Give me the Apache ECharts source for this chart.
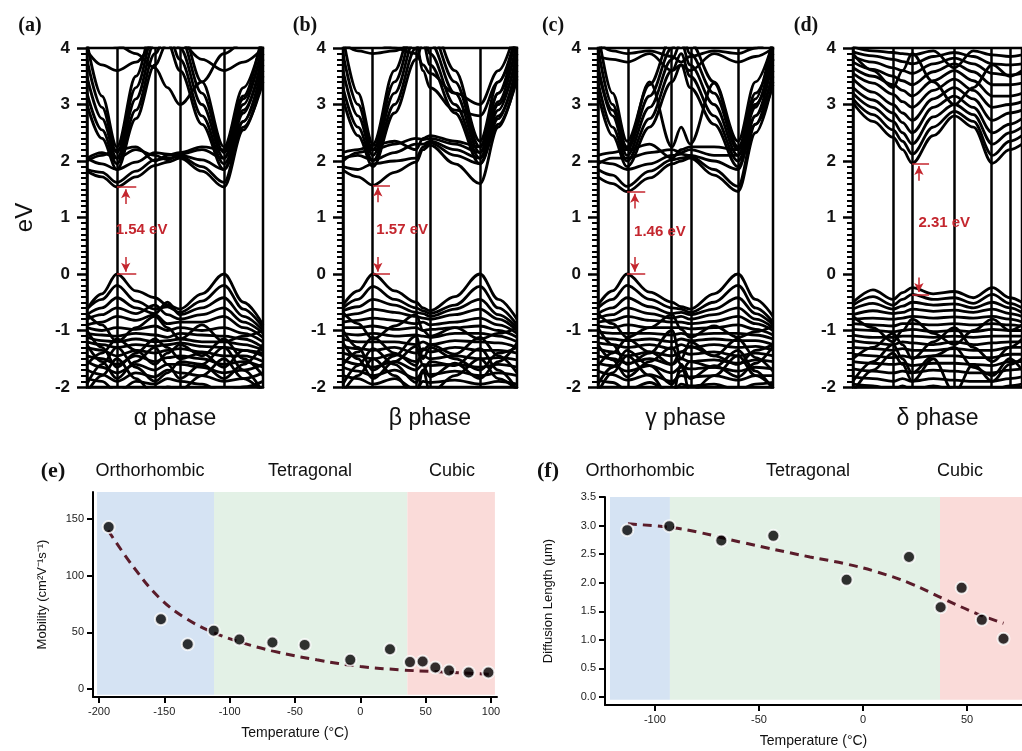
<!DOCTYPE html>
<html>
<head>
<meta charset="utf-8">
<script src="https://cdn.jsdelivr.net/npm/echarts@6/dist/echarts.min.js"></script>
<style>
html, body { margin: 0; padding: 0; background: #fff; }
#main { width: 1022px; height: 751px; }
</style>
</head>
<body>
<div id="main"></div>
<script>
var chartDom = document.getElementById('main');
var myChart = echarts.init(chartDom);

// ---- band structures (k path as fraction 0..1, energies in eV) ----
var phaseNames = ['α phase', 'β phase', 'γ phase', 'δ phase'];
var panelTags = ['(a)', '(b)', '(c)', '(d)'];

var kxA = [0, 0.085, 0.17, 0.278, 0.386, 0.457, 0.528, 0.653, 0.778, 0.889, 1];
var kLinesA = [0.17, 0.386, 0.528, 0.778];
var bandsA = [
  [1.82, 1.72, 1.54, 1.72, 1.92, 1.98, 2.05, 1.82, 1.54, 2.55, 3.5],
  [1.85, 1.8, 1.62, 1.82, 2.02, 2.05, 2.08, 1.9, 1.62, 2.7, 3.7],
  [2.05, 1.95, 1.85, 1.98, 2.15, 2.12, 2.1, 2.02, 1.85, 2.85, 3.9],
  [2.05, 2.15, 2.05, 2.2, 2.1, 2.02, 2.12, 2.2, 2.05, 3.0, 4.1],
  [2.0, 2.1, 2.2, 2.25, 2.0, 2.1, 2.15, 2.25, 2.2, 3.15, 4.3],
  [3.0, 2.4, 1.85, 2.75, 3.7, 4.1, 3.6, 2.65, 1.85, 2.6, 3.4],
  [3.2, 2.55, 1.95, 2.9, 3.9, 4.3, 3.8, 2.8, 1.95, 2.7, 3.6],
  [3.5, 2.75, 2.05, 3.1, 4.1, 4.5, 4.0, 3.0, 2.05, 2.9, 3.8],
  [3.8, 2.95, 2.15, 3.3, 4.3, 4.6, 4.2, 3.2, 2.15, 3.1, 4.0],
  [4.1, 3.15, 2.25, 3.5, 4.5, 4.7, 4.4, 3.4, 2.25, 3.3, 4.2],
  [3.95, 3.7, 3.6, 3.75, 4.1, 4.3, 4.1, 3.8, 3.6, 3.75, 4.0],
  [4.2, 4.1, 4.05, 3.9, 3.65, 3.3, 3.0, 3.4, 3.9, 4.1, 4.3],
  [-0.62, -0.35, 0.0, -0.3, -0.42, -0.55, -0.62, -0.35, 0.0, -0.5, -0.9],
  [-0.62, -0.45, -0.2, -0.48, -0.62, -0.58, -0.68, -0.48, -0.2, -0.62, -0.95],
  [-0.72, -0.6, -0.42, -0.6, -0.7, -0.5, -0.72, -0.6, -0.42, -0.75, -1.0],
  [-0.8, -0.72, -0.6, -0.7, -0.55, -0.72, -0.8, -0.72, -0.6, -0.85, -1.05],
  [-0.9, -0.85, -0.75, -0.82, -0.72, -0.88, -0.85, -0.85, -0.75, -0.95, -1.12],
  [-0.95, -1.0, -0.95, -0.98, -0.92, -1.0, -0.95, -1.0, -0.95, -1.05, -1.2],
  [-1.05, -1.08, -1.1, -1.05, -1.08, -1.12, -1.05, -1.08, -1.1, -1.15, -1.3],
  [-1.12, -1.18, -1.2, -1.15, -1.2, -1.18, -1.15, -1.2, -1.2, -1.25, -1.35],
  [-1.2, -1.25, -1.3, -1.25, -1.28, -1.25, -1.22, -1.28, -1.3, -1.35, -1.45],
  [-1.3, -1.35, -1.45, -1.35, -1.4, -1.35, -1.32, -1.38, -1.45, -1.45, -1.55],
  [-1.45, -1.5, -1.6, -1.45, -1.55, -1.48, -1.45, -1.5, -1.6, -1.55, -1.65],
  [-1.55, -1.65, -1.75, -1.6, -1.7, -1.6, -1.6, -1.65, -1.75, -1.7, -1.6],
  [-1.7, -1.78, -1.9, -1.75, -1.82, -1.7, -1.75, -1.8, -1.9, -1.85, -1.75],
  [-1.85, -1.9, -2.1, -1.9, -1.95, -1.85, -1.9, -1.95, -2.1, -2.0, -1.9],
  [-2.1, -1.8, -1.5, -1.85, -2.15, -2.0, -2.05, -1.8, -1.5, -1.85, -2.1],
  [-1.0, -1.3, -1.65, -1.4, -1.15, -1.3, -1.5, -1.4, -1.65, -1.35, -1.4],
  [-0.7, -0.9, -1.2, -0.95, -0.75, -0.95, -1.15, -0.9, -1.2, -1.1, -1.0],
  [-1.6, -1.4, -1.15, -1.35, -1.6, -1.4, -1.25, -1.45, -1.15, -1.5, -1.8],
  [-1.95, -1.6, -1.3, -1.65, -1.9, -1.75, -1.55, -1.6, -1.3, -1.7, -2.1],
  [-1.25, -1.55, -1.85, -1.55, -1.3, -1.6, -1.85, -1.6, -1.85, -1.6, -1.25]
];

var kxB = [0, 0.086, 0.172, 0.296, 0.42, 0.46, 0.5, 0.643, 0.787, 0.893, 1];
var kLinesB = [0.172, 0.42, 0.5, 0.787];
var bandsB = [
  [1.84, 1.72, 1.57, 1.8, 1.98, 2.2, 2.28, 1.95, 1.6, 2.6, 3.5],
  [1.9, 1.85, 1.95, 2.0, 2.05, 2.25, 2.32, 2.1, 1.95, 2.75, 3.7],
  [2.05, 2.1, 2.02, 2.15, 2.3, 2.3, 2.35, 2.2, 2.05, 2.9, 3.9],
  [2.0, 2.15, 2.2, 2.3, 2.4, 2.38, 2.4, 2.3, 2.15, 3.05, 4.1],
  [2.15, 2.2, 2.28, 2.35, 2.2, 2.4, 2.45, 2.35, 2.25, 3.2, 4.3],
  [3.1, 2.45, 1.9, 2.85, 3.8, 4.1, 3.7, 2.85, 1.95, 2.65, 3.45],
  [3.3, 2.6, 2.0, 3.0, 4.0, 4.3, 3.9, 3.0, 2.05, 2.8, 3.6],
  [3.6, 2.8, 2.1, 3.2, 4.2, 4.5, 4.1, 3.2, 2.15, 3.0, 3.8],
  [3.9, 3.0, 2.2, 3.4, 4.4, 4.6, 4.3, 3.4, 2.25, 3.2, 4.0],
  [4.2, 3.2, 2.3, 3.6, 4.6, 4.7, 4.5, 3.6, 2.35, 3.4, 4.2],
  [4.1, 3.95, 3.9, 3.95, 4.1, 3.6, 3.3, 2.9, 2.8, 3.4, 4.3],
  [4.3, 4.2, 4.1, 4.0, 3.9, 3.7, 3.55, 3.2, 3.0, 3.6, 4.4],
  [-0.55, -0.3, 0.0, -0.3, -0.5, -0.6, -0.65, -0.4, 0.0, -0.45, -0.8],
  [-0.6, -0.45, -0.22, -0.45, -0.6, -0.65, -0.7, -0.55, -0.22, -0.6, -0.9],
  [-0.65, -0.58, -0.45, -0.55, -0.68, -0.7, -0.75, -0.62, -0.45, -0.72, -0.95],
  [-0.75, -0.7, -0.62, -0.68, -0.75, -0.78, -0.8, -0.72, -0.62, -0.8, -1.0],
  [-0.85, -0.82, -0.78, -0.82, -0.88, -0.85, -0.9, -0.85, -0.78, -0.9, -1.05],
  [-0.95, -0.95, -0.92, -0.98, -0.95, -1.0, -0.98, -0.95, -0.92, -1.0, -1.12],
  [-1.05, -1.08, -1.05, -1.1, -1.08, -1.1, -1.12, -1.05, -1.05, -1.1, -1.2],
  [-1.15, -1.2, -1.2, -1.2, -1.25, -1.2, -1.25, -1.18, -1.2, -1.22, -1.3],
  [-1.28, -1.32, -1.35, -1.3, -1.4, -1.32, -1.38, -1.3, -1.35, -1.35, -1.4],
  [-1.4, -1.45, -1.5, -1.42, -1.55, -1.45, -1.5, -1.45, -1.5, -1.48, -1.52],
  [-1.52, -1.6, -1.65, -1.55, -1.7, -1.6, -1.62, -1.6, -1.65, -1.6, -1.65],
  [-1.65, -1.72, -1.8, -1.7, -1.85, -1.75, -1.78, -1.72, -1.8, -1.75, -1.8],
  [-1.8, -1.85, -1.95, -1.85, -2.05, -1.9, -1.92, -1.88, -1.95, -1.9, -1.95],
  [-2.1, -1.8, -1.5, -1.8, -2.2, -1.7, -2.1, -1.8, -1.5, -1.85, -2.05],
  [-1.0, -1.3, -1.7, -1.45, -1.1, -1.5, -1.3, -1.5, -1.7, -1.4, -1.3],
  [-0.68, -0.88, -1.15, -0.92, -0.72, -1.0, -1.1, -0.95, -1.15, -1.05, -0.95],
  [-1.6, -1.38, -1.12, -1.4, -1.62, -1.35, -1.25, -1.42, -1.12, -1.45, -1.75],
  [-1.95, -1.62, -1.32, -1.6, -1.92, -1.7, -1.55, -1.62, -1.32, -1.7, -2.05],
  [-1.22, -1.5, -1.85, -1.55, -1.28, -1.62, -1.82, -1.58, -1.85, -1.55, -1.22]
];

var kxC = [0, 0.083, 0.166, 0.295, 0.423, 0.475, 0.526, 0.663, 0.8, 0.9, 1];
var kLinesC = [0.166, 0.423, 0.526, 0.8];
var bandsC = [
  [1.72, 1.6, 1.46, 1.7, 1.95, 2.0, 2.05, 1.75, 1.46, 2.5, 3.4],
  [1.85, 1.75, 1.55, 1.82, 2.02, 2.05, 2.08, 1.85, 1.55, 2.65, 3.6],
  [2.0, 1.95, 1.85, 1.95, 2.1, 2.12, 2.1, 2.0, 1.85, 2.8, 3.8],
  [1.95, 2.05, 2.05, 2.15, 2.2, 2.15, 2.2, 2.1, 2.1, 2.95, 4.0],
  [2.1, 2.15, 2.2, 2.3, 2.05, 2.2, 2.25, 2.25, 2.2, 3.1, 4.2],
  [3.2, 2.45, 1.9, 2.6, 3.4, 3.7, 3.3, 2.65, 1.9, 2.65, 3.35],
  [3.4, 2.6, 2.0, 2.75, 3.6, 3.9, 3.5, 2.8, 2.0, 2.8, 3.5],
  [3.7, 2.8, 2.1, 2.95, 3.8, 4.1, 3.7, 3.0, 2.1, 3.0, 3.7],
  [4.0, 3.0, 2.2, 3.15, 4.0, 4.3, 3.9, 3.2, 2.2, 3.2, 3.9],
  [4.3, 3.2, 2.35, 3.35, 4.2, 4.5, 4.1, 3.4, 2.35, 3.4, 4.1],
  [3.6, 2.9, 2.25, 3.4, 2.25, 2.6, 2.3, 3.38, 2.25, 3.0, 3.8],
  [3.85, 3.8, 3.75, 3.9, 3.6, 3.7, 3.6, 3.9, 3.75, 3.85, 4.0],
  [4.1, 3.95, 3.9, 3.95, 3.85, 3.75, 3.85, 3.95, 3.9, 4.0, 4.2],
  [-0.55, -0.3, 0.0, -0.32, -0.5, -0.58, -0.62, -0.35, 0.0, -0.45, -0.75],
  [-0.6, -0.45, -0.2, -0.45, -0.6, -0.62, -0.68, -0.5, -0.2, -0.6, -0.85],
  [-0.7, -0.6, -0.42, -0.58, -0.7, -0.68, -0.72, -0.62, -0.42, -0.7, -0.9],
  [-0.78, -0.72, -0.6, -0.7, -0.78, -0.75, -0.8, -0.72, -0.6, -0.8, -0.95],
  [-0.85, -0.82, -0.75, -0.82, -0.85, -0.85, -0.88, -0.84, -0.75, -0.88, -1.0],
  [-0.92, -0.95, -0.9, -0.95, -0.95, -0.95, -0.97, -0.95, -0.9, -0.98, -1.08],
  [-1.02, -1.05, -1.05, -1.05, -1.08, -1.05, -1.08, -1.05, -1.05, -1.08, -1.15],
  [-1.12, -1.15, -1.18, -1.15, -1.2, -1.15, -1.18, -1.15, -1.18, -1.18, -1.25],
  [-1.22, -1.25, -1.3, -1.25, -1.32, -1.25, -1.3, -1.25, -1.3, -1.28, -1.35],
  [-1.32, -1.38, -1.45, -1.38, -1.45, -1.38, -1.42, -1.38, -1.45, -1.4, -1.45],
  [-1.45, -1.5, -1.58, -1.5, -1.6, -1.5, -1.55, -1.52, -1.58, -1.52, -1.55],
  [-1.58, -1.62, -1.72, -1.62, -1.75, -1.65, -1.68, -1.65, -1.72, -1.65, -1.68],
  [-1.72, -1.78, -1.88, -1.78, -1.9, -1.8, -1.82, -1.8, -1.88, -1.8, -1.8],
  [-1.88, -1.92, -2.05, -1.92, -2.1, -1.95, -1.98, -1.95, -2.05, -1.95, -1.92],
  [-2.1, -1.75, -1.45, -1.8, -2.2, -1.6, -2.1, -1.8, -1.45, -1.8, -2.0],
  [-0.95, -1.25, -1.6, -1.4, -1.0, -1.5, -1.2, -1.45, -1.6, -1.35, -1.25],
  [-0.7, -0.88, -1.12, -0.95, -0.72, -0.98, -1.12, -0.92, -1.12, -1.02, -0.92],
  [-1.62, -1.4, -1.15, -1.38, -1.6, -1.38, -1.28, -1.45, -1.15, -1.48, -1.72],
  [-1.95, -1.65, -1.35, -1.62, -1.95, -1.72, -1.55, -1.65, -1.35, -1.72, -2.05],
  [-1.25, -1.52, -1.82, -1.55, -1.3, -1.6, -1.85, -1.62, -1.82, -1.58, -1.28]
];

var kxD = [0, 0.118, 0.237, 0.293, 0.35, 0.475, 0.6, 0.712, 0.825, 0.927, 1];
var kLinesD = [0.237, 0.35, 0.6, 0.825, 0.927];
var bandsD = [
  [3.03, 2.7, 2.42, 2.2, 1.96, 2.45, 2.8, 2.6, 1.96, 2.2, 2.3],
  [3.1, 2.82, 2.55, 2.35, 2.12, 2.6, 2.88, 2.7, 2.1, 2.35, 2.45],
  [3.2, 2.95, 2.7, 2.5, 2.3, 2.78, 3.0, 2.82, 2.3, 2.5, 2.6],
  [3.3, 3.08, 2.85, 2.68, 2.5, 2.95, 3.15, 2.95, 2.5, 2.65, 2.75],
  [3.45, 3.22, 3.0, 2.85, 2.72, 3.1, 3.3, 3.1, 2.72, 2.85, 2.9],
  [3.55, 3.38, 3.18, 3.05, 2.95, 3.25, 3.45, 3.25, 2.95, 3.0, 3.05],
  [3.65, 3.5, 3.35, 3.25, 3.15, 3.42, 3.6, 3.42, 3.15, 3.15, 3.2],
  [3.75, 3.62, 3.5, 3.42, 3.35, 3.58, 3.72, 3.58, 3.35, 3.35, 3.38],
  [3.85, 3.75, 3.65, 3.6, 3.55, 3.72, 3.82, 3.72, 3.55, 3.52, 3.55],
  [3.93, 3.86, 3.8, 3.76, 3.72, 3.85, 3.92, 3.85, 3.72, 3.7, 3.72],
  [4.02, 3.95, 3.92, 3.9, 3.88, 3.95, 3.65, 3.95, 3.88, 3.85, 3.88],
  [3.9, 3.6, 3.3, 3.6, 3.9, 3.4, 3.0, 3.3, 3.7, 3.5, 3.6],
  [-0.5, -0.28, -0.45, -0.33, -0.24, -0.35, -0.31, -0.42, -0.24, -0.42, -0.5],
  [-0.55, -0.4, -0.55, -0.45, -0.36, -0.45, -0.42, -0.52, -0.36, -0.52, -0.6],
  [-0.62, -0.52, -0.62, -0.57, -0.5, -0.55, -0.53, -0.6, -0.5, -0.6, -0.68],
  [-0.72, -0.65, -0.7, -0.68, -0.62, -0.66, -0.64, -0.68, -0.62, -0.7, -0.75],
  [-0.8, -0.78, -0.8, -0.78, -0.75, -0.78, -0.76, -0.78, -0.75, -0.8, -0.85],
  [-0.88, -0.9, -0.92, -0.88, -0.88, -0.9, -0.88, -0.9, -0.88, -0.9, -0.92],
  [-0.98, -1.0, -1.02, -1.0, -0.98, -1.02, -1.0, -1.02, -0.98, -1.0, -1.0],
  [-1.08, -1.12, -1.12, -1.1, -1.1, -1.12, -1.1, -1.12, -1.1, -1.1, -1.1],
  [-1.18, -1.22, -1.25, -1.2, -1.22, -1.25, -1.2, -1.25, -1.22, -1.2, -1.2],
  [-1.3, -1.32, -1.35, -1.32, -1.35, -1.35, -1.32, -1.35, -1.35, -1.3, -1.3],
  [-1.42, -1.45, -1.48, -1.45, -1.48, -1.45, -1.45, -1.48, -1.48, -1.42, -1.42],
  [-1.55, -1.58, -1.6, -1.58, -1.62, -1.58, -1.58, -1.6, -1.62, -1.55, -1.55],
  [-1.68, -1.72, -1.75, -1.72, -1.75, -1.7, -1.72, -1.75, -1.75, -1.7, -1.68],
  [-1.82, -1.85, -1.9, -1.85, -1.9, -1.85, -1.88, -1.9, -1.9, -1.85, -1.82],
  [-1.95, -1.98, -2.05, -1.98, -2.05, -1.98, -2.05, -2.05, -2.05, -1.98, -1.95],
  [-2.1, -1.7, -1.4, -1.6, -1.9, -1.5, -2.1, -1.6, -1.9, -1.6, -1.5],
  [-0.75, -0.95, -1.2, -1.0, -0.8, -1.05, -1.25, -1.0, -0.8, -1.0, -0.9],
  [-1.5, -1.3, -1.05, -1.25, -1.5, -1.2, -0.95, -1.3, -1.55, -1.3, -1.15],
  [-1.9, -1.55, -1.25, -1.5, -1.75, -1.45, -1.3, -1.65, -1.8, -1.5, -1.7]
];

// band gap annotations
var gapText = ['1.54 eV', '1.57 eV', '1.46 eV', '2.31 eV'];
var cbmE = [1.54, 1.57, 1.46, 1.95];
var vbmE = [0, 0, 0, -0.36];
var gapStartK = [0.17, 0.172, 0.166, 0.35];
var gapEndK = [0.28, 0.27, 0.27, 0.45];
var arrowK = [0.22, 0.2, 0.21, 0.39];
var textK = [0.31, 0.34, 0.354, 0.54];
var textE = [0.78, 0.78, 0.75, 0.9];

// ---- mobility (e) ----
var mobTemp = [-192.6, -152.6, -132.1, -112.2, -92.6, -67.3, -42.6, -7.7, 22.7, 38, 47.7, 57.4, 67.9, 82.9, 98];
var mobVal = [143, 61.6, 39.6, 51.6, 43.7, 41.1, 39, 25.8, 35.2, 23.8, 24.3, 19.1, 16.4, 14.7, 14.7];
var mobFitT = [-193, -173.7, -153.3, -132.9, -112.5, -92.1, -66.6, -33.4, 0, 30.4, 55.9, 99];
var mobFitV = [140, 107.9, 80, 62, 50, 41.5, 33.5, 25.8, 20, 17, 15.5, 13];
var mobPhaseEdges = [-201.5, -112, 36, 103];

// ---- diffusion length (f) ----
var difTemp = [-113.3, -93.1, -68.1, -43.1, -7.9, 22.1, 37.3, 47.4, 57.1, 67.5];
var difVal = [2.92, 2.99, 2.74, 2.82, 2.05, 2.45, 1.57, 1.91, 1.35, 1.02];
var difFitT = [-113, -93, -80, -57.5, -25.5, -9.5, 6.6, 22.6, 38.6, 54.6, 67.5];
var difFitV = [3.03, 2.97, 2.89, 2.7, 2.45, 2.34, 2.19, 1.99, 1.72, 1.46, 1.29];
var difPhaseEdges = [-121.6, -92.8, 37, 80];

var phaseLabels = ['Orthorhombic', 'Tetragonal', 'Cubic'];
var phaseColors = ['#d5e3f3', '#e3f1e6', '#fadbd9'];

var RED = '#c4262e';
var SANS = 'Liberation Sans, Arial, sans-serif';
var SERIF = 'Liberation Serif, Times New Roman, serif';

var bandPanels = [
  { kx: kxA, kLines: kLinesA, bands: bandsA, left: 87, width: 176 },
  { kx: kxB, kLines: kLinesB, bands: bandsB, left: 343, width: 174 },
  { kx: kxC, kLines: kLinesC, bands: bandsC, left: 598, width: 175 },
  { kx: kxD, kLines: kLinesD, bands: bandsD, left: 853, width: 177 }
];

var option = {
  animation: false,
  backgroundColor: '#fff',
  grid: [],
  xAxis: [],
  yAxis: [],
  series: [],
  graphic: []
};

bandPanels.forEach(function (p, i) {
  option.grid.push({
    left: p.left, top: 48, width: p.width, height: 339,
    show: true, borderColor: '#000', borderWidth: 2.5, backgroundColor: 'transparent'
  });
  option.xAxis.push({
    type: 'value', gridIndex: i, min: 0, max: 1,
    axisLine: { show: true, onZero: false, lineStyle: { color: '#000', width: 2.5 } },
    axisTick: { show: false }, axisLabel: { show: false }, splitLine: { show: false },
    name: phaseNames[i], nameLocation: 'middle', nameGap: 20,
    nameTextStyle: { fontSize: 23, color: '#111', fontFamily: SANS }
  });
  option.yAxis.push({
    type: 'value', gridIndex: i, min: -2, max: 4, interval: 1,
    axisLine: { show: true, onZero: false, lineStyle: { color: '#000', width: 2.5 } },
    axisTick: { show: true, length: 10, lineStyle: { color: '#000', width: 2.5 } },
    minorTick: { show: true, splitNumber: 10, length: 6, lineStyle: { color: '#000', width: 2 } },
    axisLabel: { fontSize: 17, fontWeight: 'bold', color: '#111', margin: 17, fontFamily: SANS },
    splitLine: { show: false }, minorSplitLine: { show: false },
    name: i === 0 ? 'eV' : '', nameLocation: 'middle', nameGap: 50, nameRotate: 90,
    nameTextStyle: { fontSize: 24, color: '#111', fontFamily: SANS }
  });

  p.bands.forEach(function (b, j) {
    var s = {
      type: 'line', xAxisIndex: i, yAxisIndex: i,
      data: p.kx.map(function (x, n) { return [x, b[n]]; }),
      symbol: 'none', smooth: 0.35, smoothMonotone: 'x', silent: true, z: 2,
      lineStyle: { color: '#000', width: 2.8 }
    };
    if (j === 0) {
      s.markLine = {
        silent: true, symbol: 'none', label: { show: false },
        lineStyle: { color: '#000', width: 2.5, type: 'solid' },
        data: p.kLines.map(function (v) { return { xAxis: v }; })
      };
    }
    option.series.push(s);
  });

  // red gap annotation
  option.series.push({
    type: 'line', xAxisIndex: i, yAxisIndex: i,
    data: [[gapStartK[i], cbmE[i]]], symbol: 'none', silent: true, z: 5,
    lineStyle: { opacity: 0 },
    markLine: {
      silent: true, symbol: 'none', label: { show: false },
      lineStyle: { color: RED, width: 1.5, type: 'solid' },
      data: [
        [{ coord: [gapStartK[i], cbmE[i]] }, { coord: [gapEndK[i], cbmE[i]] }],
        [{ coord: [gapStartK[i], vbmE[i]] }, { coord: [gapEndK[i], vbmE[i]] }],
        [{ coord: [arrowK[i], cbmE[i] - 0.3], symbol: 'none' }, { coord: [arrowK[i], cbmE[i] - 0.04], symbol: 'arrow', symbolSize: [7, 9] }],
        [{ coord: [arrowK[i], vbmE[i] + 0.3], symbol: 'none' }, { coord: [arrowK[i], vbmE[i] + 0.04], symbol: 'arrow', symbolSize: [7, 9] }]
      ]
    },
    markPoint: {
      silent: true, symbol: 'circle', symbolSize: 1,
      itemStyle: { color: 'rgba(0,0,0,0)' },
      label: {
        show: true, position: 'inside', formatter: gapText[i],
        color: RED, fontWeight: 'bold', fontSize: 15, fontFamily: SANS
      },
      data: [{ coord: [textK[i], textE[i]] }]
    }
  });

  option.graphic.push({
    type: 'text', x: [30, 305, 553, 806][i], y: 26,
    style: {
      text: panelTags[i], fill: '#111', font: 'bold 20px ' + SERIF,
      align: 'center', verticalAlign: 'middle', textAlign: 'center', textVerticalAlign: 'middle'
    }
  });
});

// ---- bottom panels ----
function scatterPanel(idx, box, xr, yr, xTicks, yTicks, yFmt, yName, yNameGap, temps, vals, fitT, fitV, edges, bgY) {
  option.grid.push({ left: box[0], top: box[1], width: box[2], height: box[3] });
  option.xAxis.push({
    type: 'value', gridIndex: idx, min: xr[0], max: xr[1], z: 10,
    axisLine: { show: true, onZero: false, lineStyle: { color: '#000', width: 2 } },
    axisTick: { show: true, customValues: xTicks, length: 6, lineStyle: { color: '#000', width: 2 } },
    axisLabel: { customValues: xTicks, fontSize: 11, color: '#222', margin: 9, fontFamily: SANS },
    splitLine: { show: false },
    name: 'Temperature (°C)', nameLocation: 'middle', nameGap: 29,
    nameTextStyle: { fontSize: 14, color: '#111', fontFamily: SANS }
  });
  option.yAxis.push({
    type: 'value', gridIndex: idx, min: yr[0], max: yr[1], z: 10,
    axisLine: { show: true, onZero: false, lineStyle: { color: '#000', width: 2 } },
    axisTick: { show: true, customValues: yTicks, length: 6, lineStyle: { color: '#000', width: 2 } },
    axisLabel: { customValues: yTicks, fontSize: 11, color: '#222', margin: 9, fontFamily: SANS, formatter: yFmt },
    splitLine: { show: false },
    name: yName, nameLocation: 'middle', nameGap: yNameGap, nameRotate: 90,
    nameTextStyle: { fontSize: 13, color: '#111', fontFamily: SANS }
  });
  var fitData = fitT.map(function (t, n) { return [t, fitV[n]]; });
  option.series.push({
    type: 'line', xAxisIndex: idx, yAxisIndex: idx, data: fitData, symbol: 'none',
    lineStyle: { opacity: 0 }, silent: true, z: 1,
    markArea: {
      silent: true, label: { show: false },
      data: [0, 1, 2].map(function (k) {
        return [
          { xAxis: edges[k], yAxis: bgY[0], itemStyle: { color: phaseColors[k], opacity: 1 } },
          { xAxis: edges[k + 1], yAxis: bgY[1] }
        ];
      })
    }
  });
  option.series.push({
    type: 'line', xAxisIndex: idx, yAxisIndex: idx, data: fitData, symbol: 'none',
    smooth: 0.4, silent: true, z: 3,
    lineStyle: { color: '#5a1c2a', width: 3, type: [9, 6] }
  });
  option.series.push({
    type: 'scatter', xAxisIndex: idx, yAxisIndex: idx,
    data: temps.map(function (t, n) { return [t, vals[n]]; }),
    symbol: 'circle', symbolSize: 12, silent: true, z: 4,
    itemStyle: { color: '#000', borderColor: '#fff', borderWidth: 2 }
  });
}

scatterPanel(4, [93, 492, 404, 205], [-204.6, 104.6], [-7, 174],
  [-200, -150, -100, -50, 0, 50, 100], [0, 50, 100, 150],
  null, 'Mobility (cm²V⁻¹s⁻¹)', 44,
  mobTemp, mobVal, mobFitT, mobFitV, mobPhaseEdges, [-5, 174]);

scatterPanel(5, [605, 497, 417, 208], [-124, 76.4], [-0.14, 3.5],
  [-100, -50, 0, 50], [0, 0.5, 1, 1.5, 2, 2.5, 3, 3.5],
  function (v) { return v.toFixed(1); }, 'Diffusion Length (μm)', 50,
  difTemp, difVal, difFitT, difFitV, difPhaseEdges, [-0.05, 3.5]);

var bottomLabels = [
  { t: '(e)', x: 53, font: 'bold 22px ' + SERIF },
  { t: '(f)', x: 548, font: 'bold 22px ' + SERIF },
  { t: phaseLabels[0], x: 150, font: '18px ' + SANS },
  { t: phaseLabels[1], x: 310, font: '18px ' + SANS },
  { t: phaseLabels[2], x: 452, font: '18px ' + SANS },
  { t: phaseLabels[0], x: 640, font: '18px ' + SANS },
  { t: phaseLabels[1], x: 808, font: '18px ' + SANS },
  { t: phaseLabels[2], x: 960, font: '18px ' + SANS }
];
bottomLabels.forEach(function (b) {
  option.graphic.push({
    type: 'text', x: b.x, y: 471,
    style: {
      text: b.t, fill: '#111', font: b.font,
      align: 'center', verticalAlign: 'middle', textAlign: 'center', textVerticalAlign: 'middle'
    }
  });
});

option && myChart.setOption(option);
</script>
</body>
</html>
